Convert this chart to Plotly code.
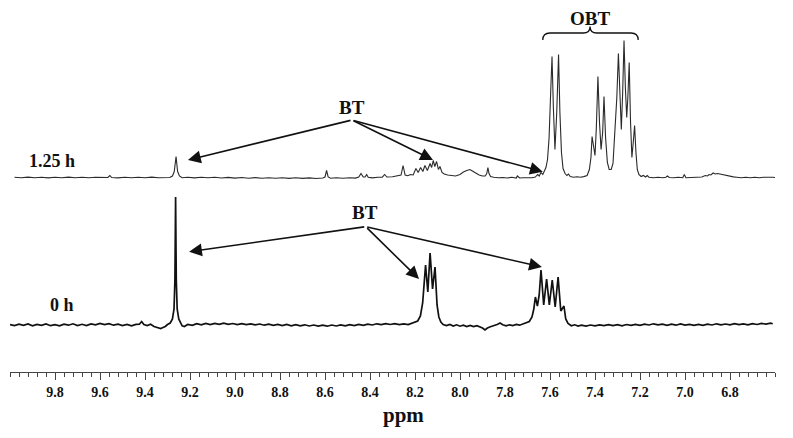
import plotly.graph_objects as go

# ---------------- data ----------------
# chemical shift (ppm) and intensity (arbitrary units, baseline = 0)
PPM_0H = [10.00, 9.98, 9.96, 9.94, 9.92, 9.90, 9.88, 9.86, 9.84, 9.82, 9.80, 9.78, 9.76, 9.74, 9.72,
          9.70, 9.68, 9.66, 9.64, 9.62, 9.60, 9.58, 9.56, 9.54, 9.52, 9.50, 9.48, 9.46, 9.44, 9.425,
          9.415, 9.405, 9.39, 9.375, 9.36, 9.345, 9.33, 9.32, 9.31, 9.30, 9.288, 9.278, 9.271, 9.267,
          9.264, 9.261, 9.257, 9.250, 9.242, 9.235, 9.225, 9.21, 9.19, 9.17, 9.15, 9.13, 9.11, 9.09,
          9.07, 9.05, 9.03, 9.01, 8.99, 8.97, 8.95, 8.93, 8.91, 8.89, 8.87, 8.85, 8.83, 8.81, 8.79,
          8.77, 8.75, 8.73, 8.71, 8.69, 8.67, 8.65, 8.63, 8.61, 8.59, 8.57, 8.55, 8.53, 8.51, 8.49,
          8.47, 8.45, 8.43, 8.41, 8.39, 8.37, 8.35, 8.33, 8.31, 8.29, 8.27, 8.25, 8.23, 8.215, 8.20,
          8.188, 8.176, 8.166, 8.153, 8.143, 8.133, 8.122, 8.111, 8.102, 8.094, 8.085, 8.075, 8.06,
          8.045, 8.03, 8.015, 8.00, 7.985, 7.97, 7.955, 7.94, 7.925, 7.91, 7.90, 7.889, 7.878, 7.865,
          7.85, 7.835, 7.822, 7.81, 7.795, 7.78, 7.765, 7.75, 7.735, 7.72, 7.705, 7.692, 7.680, 7.672,
          7.665, 7.656, 7.648, 7.640, 7.628, 7.615, 7.603, 7.590, 7.577, 7.564, 7.552, 7.538, 7.530,
          7.520, 7.505, 7.49, 7.475, 7.46, 7.44, 7.42, 7.40, 7.38, 7.36, 7.34, 7.32, 7.30, 7.28, 7.26,
          7.24, 7.22, 7.20, 7.18, 7.16, 7.14, 7.12, 7.10, 7.08, 7.06, 7.04, 7.02, 7.00, 6.98, 6.96,
          6.94, 6.92, 6.90, 6.88, 6.86, 6.84, 6.82, 6.80, 6.78, 6.76, 6.74, 6.72, 6.70, 6.68, 6.66,
          6.64, 6.62, 6.61]
INT_0H = [0.5, -0.6, 0.8, -0.4, 1.0, -0.8, 0.6, -0.3, 1.1, -0.7, 0.4, -0.9, 0.9, -0.2, 1.2,
          -0.5, 0.7, -0.6, 1.0, 0.1, 1.6, 0.4, 1.3, -0.2, 0.8, -0.6, 0.5, -0.9, 0.6, 0.8,
          3.5, 0.5, -0.5, 0.8, -1.5, -2.5, -3.5, -2.5, -1.5, 0.5, 2, 6, 16, 45,
          128, 45, 16, 6, 2, -0.8, -1.5, 0.5, -0.3, 1.3, 0.2, 1.5, 0.4, 1.6,
          0.6, 1.8, 0.7, 1.5, 0.4, 1.4, 0.3, 1.2, 0.2, 1.0, -0.2, 0.8, -0.4, 0.6, -0.6,
          0.5, -0.8, 0.3, -0.9, 0.2, -1.0, 0.0, -1.1, -0.1, -1.2, 0.0, -1.0, 0.1, -0.9, 0.3,
          -0.6, 0.6, -0.3, 0.9, 0.0, 1.2, 0.3, 1.4, 0.5, 1.3, 0.3, 1.1, 0.4, 1.5, 2.5,
          4, 9, 22, 60, 33, 72, 36, 58, 20, 8, 3, 0.5, -0.5,
          0.6, -1.0, 0.2, -1.2, -0.2, -1.5, -0.4, -1.6, -0.6, -2.0, -3.0, -5.0, -3.0, -1.8,
          -0.8, 0.5, 2.0, 0.3, -0.8, 0.2, -0.5, 0.6, -0.2, 1.0, 1.8, 3.5, 8, 16,
          28, 19, 30, 55, 20, 46, 20, 45, 18, 48, 14, 19, 6,
          1.5, -0.8, 0.2, -1.0, -0.2, -1.1, 0.0, -0.9, 0.2, -0.7, 0.4, -0.6, 0.3, -0.8, 0.5,
          -0.4, 0.7, -0.3, 0.9, 0.0, 1.2, 0.1, 0.9, -0.3, 0.8, -0.2, 1.0, -0.1, 0.7, -0.4,
          0.6, -0.3, 0.9, 0.0, 1.2, 0.2, 1.0, 0.1, 1.3, 0.3, 1.1, 0.2, 1.4, 0.5, 1.6,
          0.8, 1.9, 1.2]

PPM_125H = [9.98, 9.95, 9.92, 9.89, 9.86, 9.83, 9.80, 9.77, 9.74, 9.71, 9.68, 9.65, 9.62, 9.59,
            9.565, 9.556, 9.548, 9.52, 9.49, 9.46, 9.43, 9.40, 9.37, 9.34, 9.31, 9.29, 9.278,
            9.270, 9.262, 9.255, 9.247, 9.235, 9.21, 9.18, 9.15, 9.12, 9.09, 9.06, 9.03, 9.00,
            8.97, 8.94, 8.91, 8.88, 8.85, 8.82, 8.79, 8.76, 8.73, 8.70, 8.67, 8.64, 8.61, 8.600,
            8.593, 8.586, 8.575, 8.55, 8.52, 8.49, 8.465, 8.45, 8.44, 8.43, 8.422, 8.415, 8.408,
            8.39, 8.365, 8.345, 8.335, 8.325, 8.30, 8.275, 8.262, 8.253, 8.244, 8.232, 8.22,
            8.208, 8.196, 8.186, 8.175, 8.165, 8.156, 8.145, 8.133, 8.126, 8.119, 8.112, 8.104,
            8.096, 8.089, 8.080, 8.07, 8.055, 8.04, 8.02, 8.00, 7.985, 7.97, 7.956, 7.945, 7.93,
            7.915, 7.90, 7.888, 7.881, 7.876, 7.871, 7.864, 7.85, 7.83, 7.81, 7.79, 7.77, 7.75,
            7.745, 7.735, 7.72, 7.70, 7.68, 7.665, 7.655, 7.648, 7.640, 7.632, 7.625, 7.618,
            7.611, 7.604, 7.597, 7.591, 7.585, 7.578, 7.570, 7.562, 7.556, 7.549, 7.542, 7.533,
            7.525, 7.518, 7.510, 7.495, 7.48, 7.465, 7.45, 7.435, 7.425, 7.418, 7.413, 7.406,
            7.400, 7.394, 7.387, 7.380, 7.373, 7.366, 7.360, 7.353, 7.345, 7.337, 7.328, 7.320,
            7.312, 7.303, 7.296, 7.289, 7.283, 7.277, 7.271, 7.265, 7.259, 7.254, 7.248, 7.242,
            7.236, 7.230, 7.224, 7.218, 7.212, 7.205, 7.195, 7.185, 7.175, 7.168, 7.16, 7.14,
            7.12, 7.10, 7.085, 7.078, 7.07, 7.05, 7.03, 7.01, 7.003, 6.996, 6.98, 6.96, 6.94,
            6.925, 6.91, 6.90, 6.893, 6.885, 6.875, 6.865, 6.855, 6.845, 6.835, 6.82, 6.80,
            6.785, 6.77, 6.75, 6.73, 6.71, 6.69, 6.67, 6.65, 6.63, 6.61, 6.595]
INT_125H = [0.2, -0.3, 0.4, -0.2, 0.3, -0.4, 0.2, -0.3, 0.4, -0.2, 0.3, -0.3, 0.2, -0.2,
            0.0, 2.0, 0.0, -0.4, 0.2, -0.3, 0.3, -0.2, 0.4, -0.3, 0.2, 0.0, 1.5,
            6, 21, 6, 1.5, -0.3, 0.3, -0.4, 0.2, -0.3, 0.3, -0.5, 0.1, -0.6,
            0.0, -0.7, -0.1, -0.8, -0.2, -0.8, -0.3, -0.9, -0.3, -0.9, -0.4, -1.0, -0.5, 0.5,
            7, 0.5, -0.8, -0.2, -0.8, -0.2, -0.6, 0.5, 4, 0.5, 0.5, 3, 0.2,
            -0.4, 0.3, 0.3, 3, 0.5, 0.8, 1.5, 2.5, 12, 2.5, 1.8, 3,
            2.5, 9, 5, 10, 6, 12, 7, 14, 10, 17, 11, 16,
            8, 11, 5, 3.5, 2.5, 2.0, 1.5, 3.0, 5.5, 7, 8, 6.5, 4.5,
            2.5, 1.5, 1.5, 4, 10, 4, 1, 0.3, -0.3, 0.0, -0.5, 0.2, -0.6,
            1.5, -0.5, -0.3, -0.6, -0.2, 0.5, 3, 1.5, 5, 3, 6, 10,
            18, 40, 85, 121, 70, 28, 65, 123, 65, 25, 9, 4,
            2, 3.5, 1, 0.3, 0.8, 0.2, 0.9, 2, 8, 20, 41, 30,
            22, 50, 101, 55, 28, 45, 81, 40, 15, 8, 8, 14,
            40, 80, 124, 75, 48, 85, 137, 90, 60, 80, 115, 55,
            20, 35, 52, 25, 8, 3, 1, 2, 0.5, 2, 0.3, -0.2,
            0.2, -0.3, 0.3, 1.5, 0.0, -0.3, 0.2, -0.2, 3, -0.2, 0.0, -0.3, 0.2,
            0.5, 2, 1.5, 3, 2.5, 4.5, 3.5, 4, 3.5, 3, 2, 1,
            0.6, 0.3, -0.2, 0.3, -0.3, 0.2, -0.2, 0.3, -0.1, 0.2, 0.0]

TICK_VALUES = [9.8, 9.6, 9.4, 9.2, 9.0, 8.8, 8.6, 8.4, 8.2, 8.0, 7.8, 7.6, 7.4, 7.2, 7.0, 6.8]
TICK_LABELS = ["9.8", "9.6", "9.4", "9.2", "9.0", "8.8", "8.6", "8.4",
               "8.2", "8.0", "7.8", "7.6", "7.4", "7.2", "7.0", "6.8"]
SERIES_LABELS = ["1.25 h", "0 h"]
AXIS_TITLE = "ppm"

# ---------------- styling / layout ----------------
OFFSET = 147.5          # vertical stacking of the 1.25 h spectrum
FONT = "Liberation Serif"
INK = "#111111"

fig = go.Figure()
fig.add_trace(go.Scatter(x=PPM_0H, y=INT_0H, mode="lines",
                         line=dict(color=INK, width=1.7), hoverinfo="skip", showlegend=False))
fig.add_trace(go.Scatter(x=PPM_125H, y=[v + OFFSET for v in INT_125H], mode="lines",
                         line=dict(color="#2a2a2a", width=1.1), hoverinfo="skip", showlegend=False))

ann = []
def label(text, x, y, size=18):
    ann.append(dict(text=text, x=x, y=y, xref="x", yref="y", showarrow=False,
                    font=dict(family=FONT, size=size, color=INK, weight="bold"),
                    xanchor="center", yanchor="middle"))

def arrow(x0, y0, x1, y1):
    ann.append(dict(text="", x=x1, y=y1, ax=x0, ay=y0, xref="x", yref="y",
                    axref="x", ayref="y", showarrow=True, arrowhead=2, arrowsize=1.6,
                    arrowwidth=1.6, arrowcolor=INK, standoff=0, startstandoff=0))

label(SERIES_LABELS[0], 9.813, 164, 18)
label(SERIES_LABELS[1], 9.767, 20, 18)
label("BT", 8.48, 218, 19)
label("BT", 8.422, 113, 19)
label("OBT", 7.422, 307, 19)

# arrows, top spectrum
for tx, ty in [(9.209, 165), (8.12, 165), (7.632, 153.3)]:
    arrow(8.48, 205, tx, ty)
# arrows, bottom spectrum
for tx, ty in [(9.204, 73.3), (8.182, 46), (7.636, 58)]:
    arrow(8.419, 98.3, tx, ty)

ann.append(dict(text=AXIS_TITLE, x=(404 - 10) / 765, y=(372 - 415) / 372, xref="paper", yref="paper",
                showarrow=False, xanchor="center", yanchor="middle",
                font=dict(family=FONT, size=21, color=INK, weight="bold")))

brace = ("M 7.632,285 Q 7.632,292 7.60,292 L 7.452,292 Q 7.422,292 7.422,298.5 "
         "Q 7.422,292 7.392,292 L 7.24,292 Q 7.208,292 7.208,285")
fig.add_shape(type="path", path=brace, xref="x", yref="y",
              line=dict(color=INK, width=1.3))

fig.update_layout(
    width=793, height=438,
    margin=dict(l=10, r=18, t=0, b=66),
    paper_bgcolor="white", plot_bgcolor="white",
    annotations=ann,
    xaxis=dict(range=[10.0, 6.6], tickmode="array", tickvals=TICK_VALUES, ticktext=TICK_LABELS,
               ticks="outside", ticklen=7, tickwidth=1, tickcolor="#444",
               showline=True, linecolor="#444", linewidth=1,
               showgrid=False, zeroline=False,
               tickfont=dict(family=FONT, size=14, color=INK, weight="bold"),
               minor=dict(tickmode="linear", tick0=0, dtick=0.04, ticks="outside",
                          ticklen=4, tickwidth=1, tickcolor="#444", showgrid=False)),
    yaxis=dict(range=[-47, 325], visible=False, showgrid=False, zeroline=False),
)

fig.write_html("out.html", config={"displayModeBar": False},
               post_script="document.body.style.margin='0';document.body.style.overflow='hidden';")
